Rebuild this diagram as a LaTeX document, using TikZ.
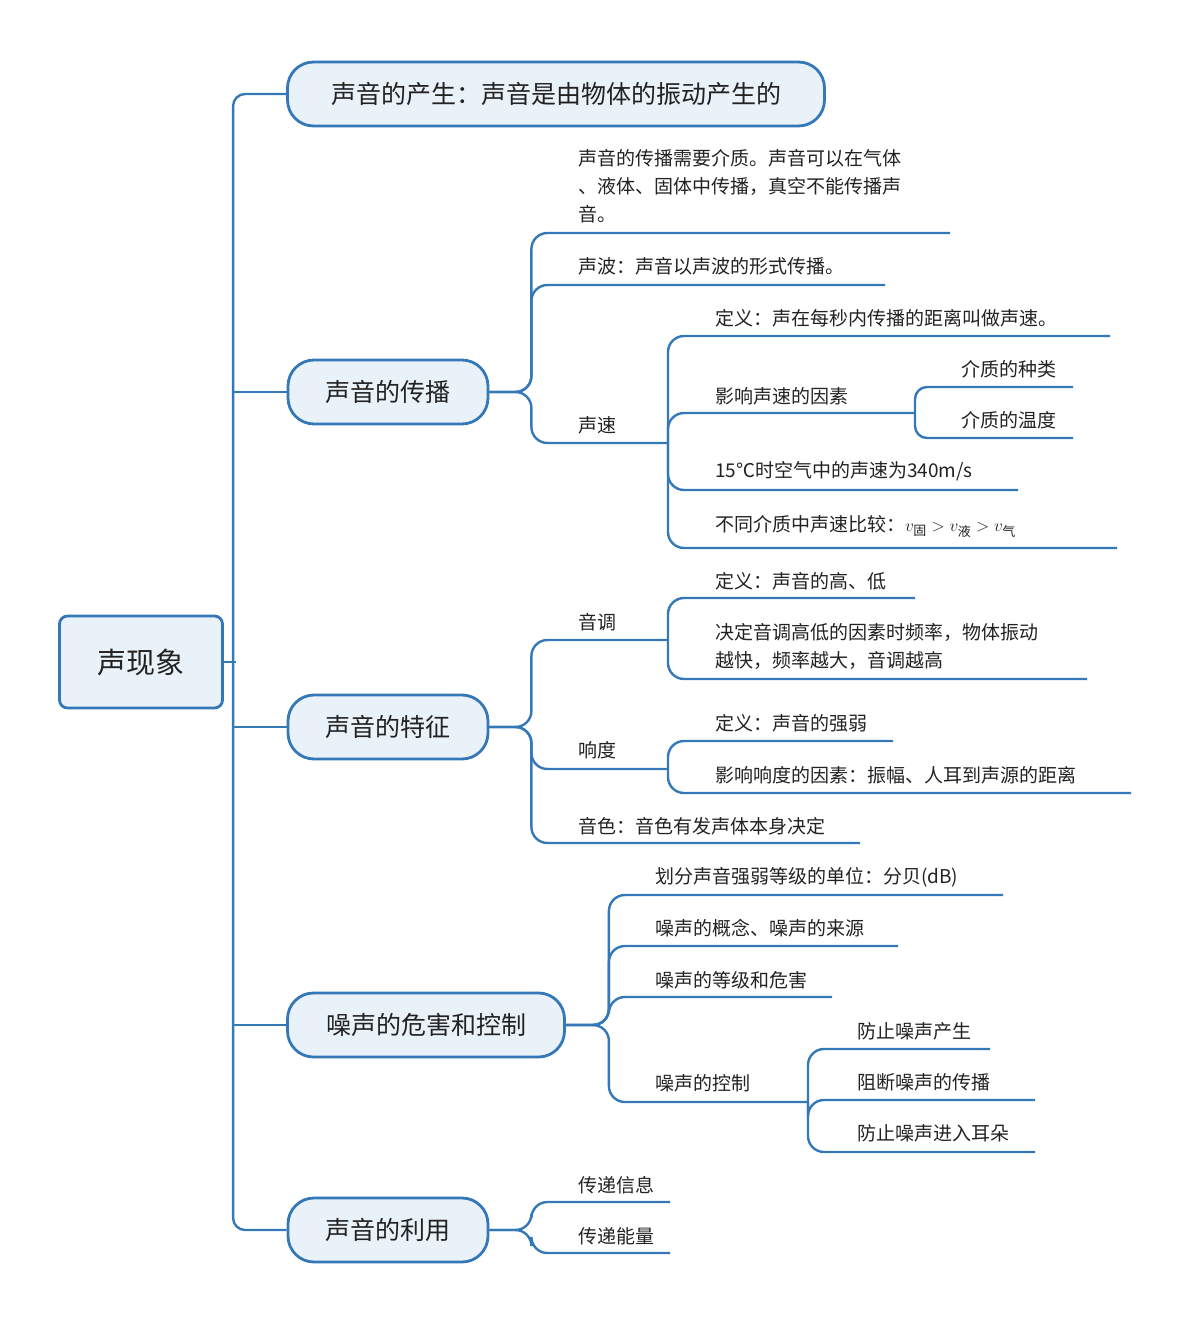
\documentclass[tikz,border=0pt]{standalone}
\usepackage{fontspec}
\setmainfont{Noto Sans CJK SC}
\definecolor{lc}{HTML}{3478B8}
\definecolor{lf}{HTML}{E9F1F9}
\definecolor{tc}{HTML}{222222}
\begin{document}
\begin{tikzpicture}[x=1pt,y=-1pt,
 ln/.style={draw=lc,line width=2.4pt,rounded corners=16pt},
 lv/.style={draw=lc,line width=2.8pt,fill=lf,rounded corners=26pt,minimum height=64pt,inner sep=0pt,font=\fontsize{25}{30}\selectfont,text=tc},
 leaf/.style={anchor=west,inner sep=0pt,font=\fontsize{19}{28}\selectfont,align=left,text=tc}]
\useasboundingbox (0,0) rectangle (1192,1324);
\node[draw=lc,line width=2.8pt,fill=lf,rounded corners=8pt,minimum width=163pt,minimum height=92pt,font=\fontsize{29}{34}\selectfont,text=tc] (root) at (141,662) {声现象};
\node[lv,minimum width=537pt] (n1) at (556,94) {声音的产生：声音是由物体的振动产生的};
\node[lv,minimum width=200pt] (n2) at (388,392) {声音的传播};
\node[lv,minimum width=200pt] (n3) at (388,727) {声音的特征};
\node[lv,minimum width=277pt] (n4) at (426,1025) {噪声的危害和控制};
\node[lv,minimum width=200pt] (n5) at (388,1230) {声音的利用};
% trunk
\draw[ln,rounded corners=12pt] (n1.west) -- ++(-53,0) |- (n5.west);
\draw[ln] (root.east) -- ++(12,0);
\foreach \n in {n2,n3,n4} \draw[ln] (\n.west) -- ++(-53,0);
% n2
\node[leaf] (a1) at (578,186) {声音的传播需要介质。声音可以在气体\\、液体、固体中传播，真空不能传播声\\音。};
\coordinate (a1e) at (950,233);
\node[leaf] (a2) at (578,266) {声波：声音以声波的形式传播。};
\coordinate (a2e) at (885,285);
\node[leaf] (a3) at (578,425) {声速};
\coordinate (a3e) at (668,443);
\draw[ln] (n2.east) -- ++(42,0) |- (a1e);
\draw[ln] (n2.east) -- ++(42,0) |- (a2e);
\draw[ln] (n2.east) -- ++(42,0) |- (a3e);
\node[leaf] (b1) at (715,318) {定义：声在每秒内传播的距离叫做声速。};
\coordinate (b1e) at (1110,336);
\node[leaf] (b2) at (715,396) {影响声速的因素};
\coordinate (b2e) at (915,413);
\node[leaf] (b3) at (715,471) {15℃时空气中的声速为340m/s};
\coordinate (b3e) at (1018,490);
\node[leaf] (b4) at (715,526) {不同介质中声速比较：$v_{\mbox{\fontsize{13}{13}\selectfont 固}}>v_{\mbox{\fontsize{13}{13}\selectfont 液}}>v_{\mbox{\fontsize{13}{13}\selectfont 气}}$};
\coordinate (b4e) at (1117,548);
\foreach \c in {b1e,b2e,b3e,b4e} \draw[ln] (a3e) |- (\c);
\node[leaf] (c1) at (961,369) {介质的种类};
\coordinate (c1e) at (1073,387);
\node[leaf] (c2) at (961,420) {介质的温度};
\coordinate (c2e) at (1073,438);
\foreach \c in {c1e,c2e} \draw[ln,rounded corners=12pt] (b2e) |- (\c);
% n3
\node[leaf] (d1) at (578,622) {音调};
\coordinate (d1e) at (668,640);
\node[leaf] (d2) at (578,750) {响度};
\coordinate (d2e) at (668,769);
\node[leaf] (d3) at (578,826) {音色：音色有发声体本身决定};
\coordinate (d3e) at (860,843);
\foreach \c in {d1e,d2e,d3e} \draw[ln] (n3.east) -- ++(42,0) |- (\c);
\node[leaf] (e1) at (715,581) {定义：声音的高、低};
\coordinate (e1e) at (915,598);
\node[leaf] (e2) at (715,646) {决定音调高低的因素时频率，物体振动\\越快，频率越大，音调越高};
\coordinate (e2e) at (1087,679);
\foreach \c in {e1e,e2e} \draw[ln] (d1e) |- (\c);
\node[leaf] (f1) at (715,723) {定义：声音的强弱};
\coordinate (f1e) at (893,741);
\node[leaf] (f2) at (715,775) {影响响度的因素：振幅、人耳到声源的距离};
\coordinate (f2e) at (1131,793);
\foreach \c in {f1e,f2e} \draw[ln] (d2e) |- (\c);
% n4
\node[leaf] (g1) at (655,877) {划分声音强弱等级的单位：分贝(dB)};
\coordinate (g1e) at (1003,895);
\node[leaf] (g2) at (655,928) {噪声的概念、噪声的来源};
\coordinate (g2e) at (898,946);
\node[leaf] (g3) at (655,980) {噪声的等级和危害};
\coordinate (g3e) at (832,997);
\node[leaf] (g4) at (655,1083) {噪声的控制};
\coordinate (g4e) at (808,1102);
\foreach \c in {g1e,g2e,g3e,g4e} \draw[ln] (n4.east) -- ++(43,0) |- (\c);
\node[leaf] (h1) at (857,1031) {防止噪声产生};
\coordinate (h1e) at (990,1049);
\node[leaf] (h2) at (857,1082) {阻断噪声的传播};
\coordinate (h2e) at (1035,1100);
\node[leaf] (h3) at (857,1133) {防止噪声进入耳朵};
\coordinate (h3e) at (1035,1152);
\foreach \c in {h1e,h2e,h3e} \draw[ln] (g4e) |- (\c);
% n5
\node[leaf] (k1) at (578,1185) {传递信息};
\coordinate (k1e) at (670,1202);
\node[leaf] (k2) at (578,1236) {传递能量};
\coordinate (k2e) at (670,1253);
\foreach \c in {k1e,k2e} \draw[ln] (n5.east) -- ++(42,0) |- (\c);
\end{tikzpicture}
\end{document}
